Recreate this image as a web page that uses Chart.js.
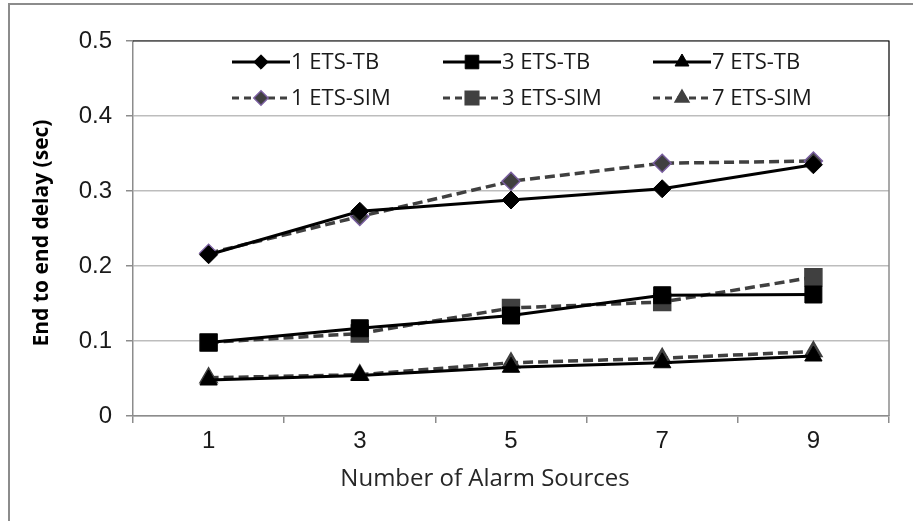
<!DOCTYPE html>
<html>
<head>
<meta charset="utf-8">
<script src="https://cdn.jsdelivr.net/npm/chart.js@4/dist/chart.umd.min.js"></script>
<style>
  html, body { margin: 0; padding: 0; background: #fff; }
  #wrap { position: relative; width: 913px; height: 521px; overflow: hidden; }
  #frame {
    position: absolute; left: 8px; top: 3px; right: -10px; bottom: -10px;
    border-left: 2px solid #8c8c8c; border-top: 2px solid #8c8c8c;
    pointer-events: none;
  }
</style>
</head>
<body>
<div id="wrap">
  <canvas id="delayChart" width="913" height="521"></canvas>
  <div id="frame"></div>
</div>
<script>
// Chart data
const alarmSources = ["1", "3", "5", "7", "9"];
const tb1 = [0.215, 0.273, 0.288, 0.303, 0.335];
const tb3 = [0.098, 0.117, 0.134, 0.161, 0.162];
const tb7 = [0.048, 0.054, 0.065, 0.071, 0.080];
const sim1 = [0.217, 0.266, 0.313, 0.337, 0.340];
const sim3 = [0.098, 0.110, 0.144, 0.152, 0.185];
const sim7 = [0.051, 0.055, 0.071, 0.077, 0.086];
const yTicks = [0, 0.1, 0.2, 0.3, 0.4, 0.5];

const xTitle = "Number of Alarm Sources";
const yTitle = "End to end delay (sec)";

const tickFont = { family: "'Liberation Sans', Arial, sans-serif", size: 24 };
const textFont = "'Open Sans', sans-serif";

function tbSeries(label, data, style, radius) {
    return {
        label: label,
        data: data,
        borderColor: "#000",
        backgroundColor: "#000",
        borderWidth: 3,
        pointStyle: style,
        pointRadius: radius,
        pointBackgroundColor: "#000",
        pointBorderColor: "#000",
        pointBorderWidth: 1,
        tension: 0,
    };
}

function simSeries(label, data, style, radius, edge) {
    return {
        label: label,
        data: data,
        borderColor: "#404040",
        backgroundColor: "#404040",
        borderWidth: 3.5,
        borderDash: [10, 5],
        pointStyle: style,
        pointRadius: radius,
        pointBackgroundColor: "#404040",
        pointBorderColor: edge,
        pointBorderWidth: 1.5,
        tension: 0,
    };
}

// legend box inside the top of the plot, axis titles, plot border
const decorPlugin = {
    id: "decor",
    afterDraw(chart) {
        const ctx = chart.ctx;
        const area = chart.chartArea;
        const yScale = chart.scales.y;
        const legendBottom = yScale.getPixelForValue(0.4);

        ctx.save();
        // legend box
        ctx.fillStyle = "#fff";
        ctx.fillRect(area.left + 1, area.top, area.right - area.left - 1, legendBottom - area.top - 1);
        ctx.strokeStyle = "#000";
        ctx.lineWidth = 1.2;
        ctx.beginPath();
        ctx.moveTo(area.left, area.top);
        ctx.lineTo(area.right, area.top);
        ctx.lineTo(area.right, legendBottom);
        ctx.stroke();

        // right border of plot below legend
        ctx.strokeStyle = "#8c8c8c";
        ctx.lineWidth = 1.5;
        ctx.beginPath();
        ctx.moveTo(area.right, legendBottom);
        ctx.lineTo(area.right, area.bottom);
        ctx.stroke();

        // legend entries
        const colX = [232, 443, 653];
        const rowY = [62, 98];
        chart.data.datasets.forEach((ds, i) => {
            const x0 = colX[i % 3];
            const y0 = rowY[Math.floor(i / 3)];
            ctx.save();
            ctx.strokeStyle = ds.borderColor;
            ctx.lineWidth = 3;
            ctx.setLineDash(ds.borderDash ? [7, 5] : []);
            ctx.beginPath();
            ctx.moveTo(x0, y0);
            ctx.lineTo(x0 + 58, y0);
            ctx.stroke();
            ctx.setLineDash([]);
            ctx.fillStyle = ds.pointBackgroundColor;
            ctx.strokeStyle = ds.pointBorderColor;
            ctx.lineWidth = ds.pointBorderWidth;
            Chart.helpers.drawPoint(ctx, {
                pointStyle: ds.pointStyle,
                radius: ds.pointRadius * 0.8,
                rotation: 0,
                borderWidth: ds.pointBorderWidth,
            }, x0 + 29, y0);
            ctx.restore();

            ctx.fillStyle = "#1a1a1a";
            ctx.font = "22px " + textFont;
            ctx.textAlign = "left";
            ctx.textBaseline = "middle";
            ctx.fillText(ds.label, x0 + 59, y0 + 1);
        });

        // x axis title
        ctx.fillStyle = "#262626";
        ctx.font = "24px " + textFont;
        ctx.textAlign = "center";
        ctx.textBaseline = "middle";
        ctx.fillText(xTitle, 485, 479);

        // y axis title
        ctx.translate(42, 233);
        ctx.rotate(-Math.PI / 2);
        ctx.font = "bold 21px " + textFont;
        ctx.fillStyle = "#000";
        ctx.fillText(yTitle, 0, 0);
        ctx.restore();
    },
};

const chartCtx = document.getElementById("delayChart").getContext("2d");

new Chart(chartCtx, {
    type: "line",
    data: {
        labels: alarmSources,
        datasets: [
            tbSeries("1 ETS-TB", tb1, "rectRot", 9),
            tbSeries("3 ETS-TB", tb3, "rect", 12),
            tbSeries("7 ETS-TB", tb7, "triangle", 10),
            simSeries("1 ETS-SIM", sim1, "rectRot", 9, "#7a5fa0"),
            simSeries("3 ETS-SIM", sim3, "rect", 12, "#404040"),
            simSeries("7 ETS-SIM", sim7, "triangle", 10, "#404040"),
        ],
    },
    options: {
        responsive: false,
        animation: false,
        layout: {
            padding: { left: 0, right: 24, top: 41, bottom: 0 },
        },
        scales: {
            x: {
                offset: true,
                grid: {
                    offset: true,
                    drawOnChartArea: false,
                    drawTicks: true,
                    tickLength: 7,
                    color: "#8c8c8c",
                    lineWidth: 1.5,
                },
                border: { color: "#8c8c8c", width: 1.5 },
                ticks: {
                    color: "#1a1a1a",
                    font: tickFont,
                    padding: 4,
                    maxRotation: 0,
                },
                afterFit(scale) {
                    scale.height = 105;
                },
            },
            y: {
                min: 0,
                max: 0.5,
                afterBuildTicks(scale) {
                    scale.ticks = yTicks.map((v) => ({ value: v }));
                },
                grid: {
                    color: "#bdbdbd",
                    lineWidth: 1.5,
                    tickLength: 7,
                    tickColor: "#8c8c8c",
                },
                border: { color: "#8c8c8c", width: 1.5 },
                ticks: {
                    color: "#1a1a1a",
                    font: tickFont,
                    padding: 14,
                    callback: (v) => String(v),
                },
                afterFit(scale) {
                    scale.width = 133;
                },
            },
        },
        plugins: {
            legend: { display: false },
            tooltip: { enabled: false },
        },
    },
    plugins: [decorPlugin],
});
</script>
</body>
</html>
